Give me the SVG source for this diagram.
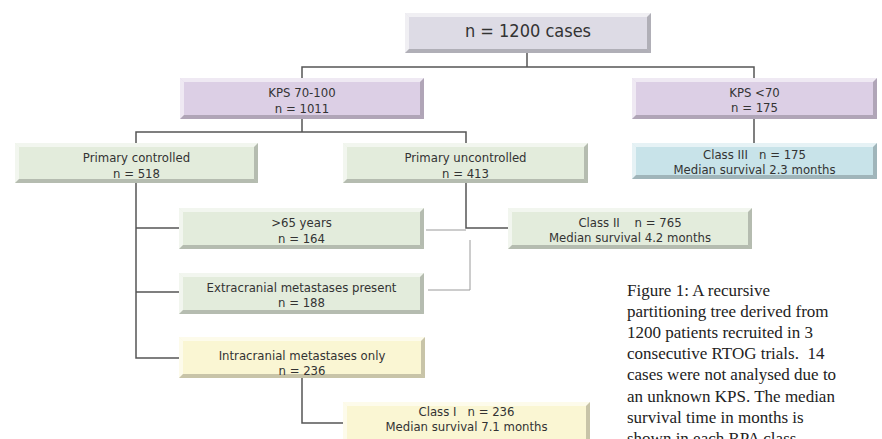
<svg xmlns="http://www.w3.org/2000/svg" width="882" height="439" viewBox="0 0 882 439">
<style>
.t{font-family:"DejaVu Sans Condensed","DejaVu Sans",sans-serif;font-size:13px;fill:#333;text-anchor:middle}
.big{font-size:18px}
.hl{fill:#ffffff;fill-opacity:0.55}
.sh{fill:#000000;fill-opacity:0.2}
.gray{fill:#dddbe5}
.lav{fill:#dccfe5}
.grn{fill:#e3ecdc}
.yel{fill:#faf6d3}
.blu{fill:#c8e3e9}
.c{fill:none;stroke:#555;stroke-width:1.5}
.cl{fill:none;stroke:#9a9a9a;stroke-width:1}
.cap{font-family:"Liberation Serif","Times New Roman",serif;font-size:17px;fill:#222}
</style>
<rect width="882" height="439" fill="#ffffff"/>
<g id="connectors">
<path class="c" d="M527 53V67M302 78V67H754V78"/>
<path class="c" d="M754 119V143"/>
<path class="c" d="M302 119V132M136 143V132H466V143"/>
<path class="c" d="M136 183V358H179M136 228H179M136 292H179"/>
<path class="c" d="M302 378V423H343"/>
<path class="cl" d="M426 230H466"/>
<path class="cl" d="M428 290H470V240"/>
<path class="c" d="M466 183V228H508"/>
</g>
<g id="n1200">
<rect class="gray" x="405" y="13" width="246" height="40"/>
<polygon class="hl" points="405,13 651,13 647,17 409,17"/>
<polygon class="hl" points="405,13 409,17 409,49 405,53"/>
<polygon class="sh" points="651,13 651,53 647,49 647,17"/>
<polygon class="sh" points="405,53 651,53 647,49 409,49"/>
<text class="t big" x="528" y="37">n = 1200 cases</text>
</g>
<g id="kps70100">
<rect class="lav" x="180" y="78" width="244" height="41"/>
<polygon class="hl" points="180,78 424,78 420,82 184,82"/>
<polygon class="hl" points="180,78 184,82 184,115 180,119"/>
<polygon class="sh" points="424,78 424,119 420,115 420,82"/>
<polygon class="sh" points="180,119 424,119 420,115 184,115"/>
<text class="t" x="302" y="97">KPS 70-100</text>
<text class="t" x="302" y="113">n = 1011</text>
</g>
<g id="kpslt70">
<rect class="lav" x="632" y="78" width="245" height="41"/>
<polygon class="hl" points="632,78 877,78 873,82 636,82"/>
<polygon class="hl" points="632,78 636,82 636,115 632,119"/>
<polygon class="sh" points="877,78 877,119 873,115 873,82"/>
<polygon class="sh" points="632,119 877,119 873,115 636,115"/>
<text class="t" x="754.5" y="97">KPS &lt;70</text>
<text class="t" x="754.5" y="112">n = 175</text>
</g>
<g id="class3">
<rect class="blu" x="632" y="143" width="245" height="36"/>
<polygon class="hl" points="632,143 877,143 873,147 636,147"/>
<polygon class="hl" points="632,143 636,147 636,175 632,179"/>
<polygon class="sh" points="877,143 877,179 873,175 873,147"/>
<polygon class="sh" points="632,179 877,179 873,175 636,175"/>
<text class="t" x="754.5" y="159" xml:space="preserve">Class III   n = 175</text>
<text class="t" x="754.5" y="174">Median survival 2.3 months</text>
</g>
<g id="primctrl">
<rect class="grn" x="15" y="143" width="243" height="40"/>
<polygon class="hl" points="15,143 258,143 254,147 19,147"/>
<polygon class="hl" points="15,143 19,147 19,179 15,183"/>
<polygon class="sh" points="258,143 258,183 254,179 254,147"/>
<polygon class="sh" points="15,183 258,183 254,179 19,179"/>
<text class="t" x="136.5" y="162">Primary controlled</text>
<text class="t" x="136.5" y="178">n = 518</text>
</g>
<g id="primunctrl">
<rect class="grn" x="343" y="143" width="245" height="40"/>
<polygon class="hl" points="343,143 588,143 584,147 347,147"/>
<polygon class="hl" points="343,143 347,147 347,179 343,183"/>
<polygon class="sh" points="588,143 588,183 584,179 584,147"/>
<polygon class="sh" points="343,183 588,183 584,179 347,179"/>
<text class="t" x="465.5" y="162">Primary uncontrolled</text>
<text class="t" x="465.5" y="178">n = 413</text>
</g>
<g id="over65">
<rect class="grn" x="179" y="208" width="245" height="41"/>
<polygon class="hl" points="179,208 424,208 420,212 183,212"/>
<polygon class="hl" points="179,208 183,212 183,245 179,249"/>
<polygon class="sh" points="424,208 424,249 420,245 420,212"/>
<polygon class="sh" points="179,249 424,249 420,245 183,245"/>
<text class="t" x="301.5" y="227">&gt;65 years</text>
<text class="t" x="301.5" y="243">n = 164</text>
</g>
<g id="class2">
<rect class="grn" x="508" y="208" width="244" height="41"/>
<polygon class="hl" points="508,208 752,208 748,212 512,212"/>
<polygon class="hl" points="508,208 512,212 512,245 508,249"/>
<polygon class="sh" points="752,208 752,249 748,245 748,212"/>
<polygon class="sh" points="508,249 752,249 748,245 512,245"/>
<text class="t" x="630" y="227" xml:space="preserve">Class II    n = 765</text>
<text class="t" x="630" y="242">Median survival 4.2 months</text>
</g>
<g id="extra">
<rect class="grn" x="179" y="273" width="245" height="41"/>
<polygon class="hl" points="179,273 424,273 420,277 183,277"/>
<polygon class="hl" points="179,273 183,277 183,310 179,314"/>
<polygon class="sh" points="424,273 424,314 420,310 420,277"/>
<polygon class="sh" points="179,314 424,314 420,310 183,310"/>
<text class="t" x="301.5" y="292">Extracranial metastases present</text>
<text class="t" x="301.5" y="307">n = 188</text>
</g>
<g id="intra">
<rect class="yel" x="179" y="337" width="246" height="41"/>
<polygon class="hl" points="179,337 425,337 421,341 183,341"/>
<polygon class="hl" points="179,337 183,341 183,374 179,378"/>
<polygon class="sh" points="425,337 425,378 421,374 421,341"/>
<polygon class="sh" points="179,378 425,378 421,374 183,374"/>
<text class="t" x="302" y="360">Intracranial metastases only</text>
<text class="t" x="302" y="375">n = 236</text>
</g>
<g id="class1">
<rect class="yel" x="343" y="402" width="247" height="41"/>
<polygon class="hl" points="343,402 590,402 586,406 347,406"/>
<polygon class="hl" points="343,402 347,406 347,439 343,443"/>
<polygon class="sh" points="590,402 590,443 586,439 586,406"/>
<text class="t" x="466.5" y="416" xml:space="preserve">Class I   n = 236</text>
<text class="t" x="466.5" y="431">Median survival 7.1 months</text>
</g>
<g id="caption">
<text class="cap" x="627" y="296">Figure 1: A recursive</text>
<text class="cap" x="627" y="317.1">partitioning tree derived from</text>
<text class="cap" x="627" y="338.2">1200 patients recruited in 3</text>
<text class="cap" x="627" y="359.3" xml:space="preserve">consecutive RTOG trials.  14</text>
<text class="cap" x="627" y="380.4">cases were not analysed due to</text>
<text class="cap" x="627" y="401.5">an unknown KPS. The median</text>
<text class="cap" x="627" y="422.6">survival time in months is</text>
<text class="cap" x="627" y="443.7">shown in each RPA class.</text>
</g>
</svg>
